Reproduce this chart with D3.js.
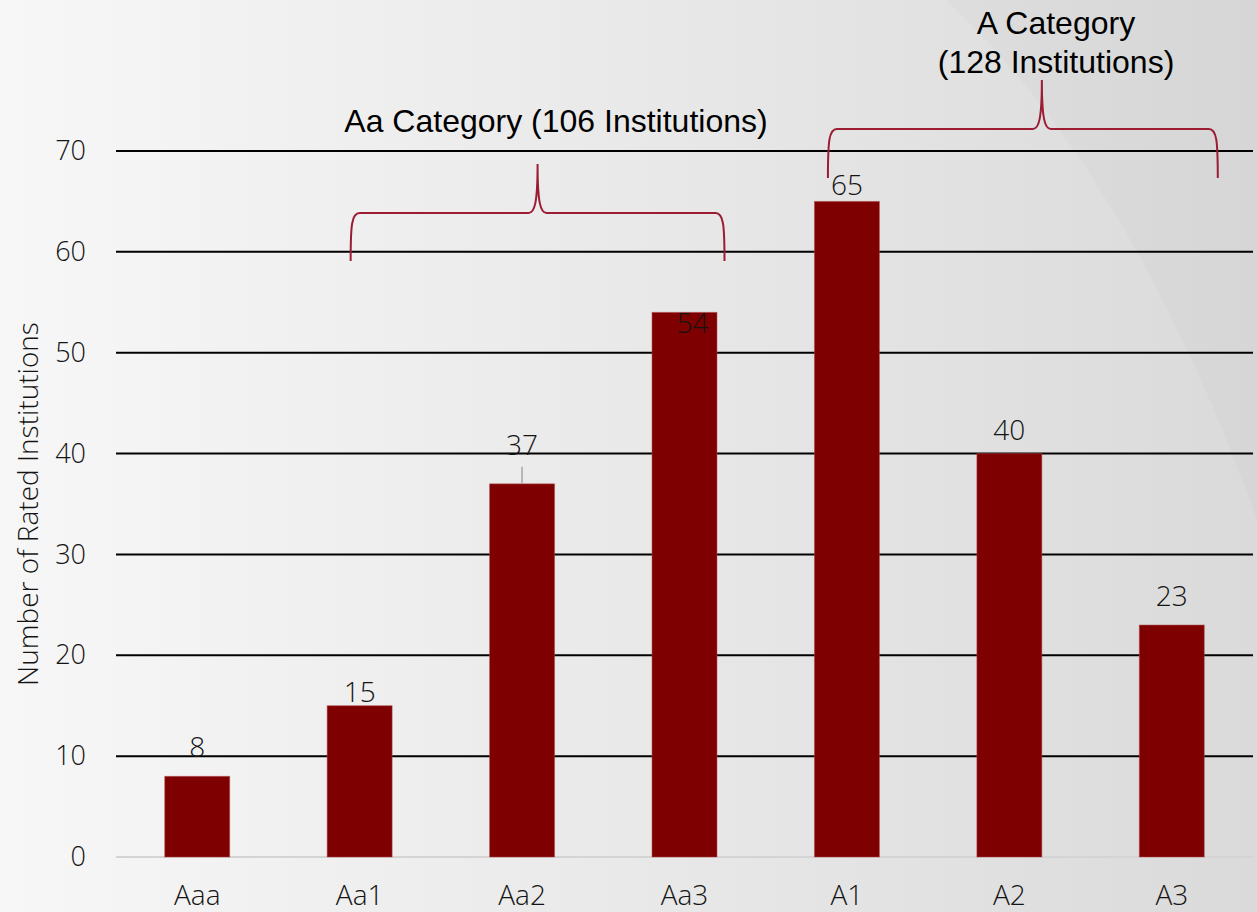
<!DOCTYPE html>
<html>
<head>
<meta charset="utf-8">
<script src="https://cdn.jsdelivr.net/npm/d3@7"></script>
<style>
  html, body { margin: 0; padding: 0; }
  body { width: 1257px; height: 912px; overflow: hidden; }
  svg { display: block; }
</style>
</head>
<body>
<svg id="chart" width="1257" height="912"></svg>
<script>
// Rating categories and counts of rated institutions
const categories = ["Aaa", "Aa1", "Aa2", "Aa3", "A1", "A2", "A3"];
const counts = [8, 15, 37, 54, 65, 40, 23];
const yTicks = [0, 10, 20, 30, 40, 50, 60, 70];
const groups = [
  { lines: ["Aa Category (106 Institutions)"], from: "Aa1", to: "Aa3" },
  { lines: ["A Category", "(128 Institutions)"], from: "A1", to: "A3" }
];

const W = 1257, H = 912;
const margin = { left: 116, right: 4 };
const svg = d3.select("#chart");

// Background: soft horizontal grey gradient with a faint darker corner sweep
const defs = svg.append("defs");
const bg = defs.append("linearGradient").attr("id", "bg").attr("x1", 0).attr("x2", 1).attr("y1", 0).attr("y2", 0);
bg.append("stop").attr("offset", "0%").attr("stop-color", "#f7f7f7");
bg.append("stop").attr("offset", "50%").attr("stop-color", "#e9e9e9");
bg.append("stop").attr("offset", "100%").attr("stop-color", "#dadada");
svg.append("rect").attr("width", W).attr("height", H).attr("fill", "url(#bg)");
svg.append("path")
  .attr("d", "M945,0 Q1130,170 1257,520 L1257,0 Z")
  .attr("fill", "#000").attr("opacity", 0.015);

const x = d3.scaleBand()
  .domain(categories)
  .range([margin.left, W - margin.right])
  .paddingInner(0.6)
  .paddingOuter(0.3);

const y = d3.scaleLinear()
  .domain([0, 70])
  .range([857, 151]);

const tickFont = "'Open Sans', 'Noto Sans', sans-serif";
const textFill = "#141414";

// Horizontal gridlines
svg.append("g")
  .selectAll("line")
  .data(yTicks)
  .join("line")
  .attr("x1", margin.left)
  .attr("x2", W - margin.right)
  .attr("y1", d => y(d))
  .attr("y2", d => y(d))
  .attr("stroke", d => d === 0 ? "#d4d4d4" : "#000")
  .attr("stroke-width", 2);

// Y axis tick labels
const yAxis = svg.append("g")
  .attr("transform", `translate(${margin.left},0)`)
  .call(d3.axisLeft(y).tickValues(yTicks).tickSize(0).tickPadding(30));
yAxis.select(".domain").remove();
yAxis.selectAll("text")
  .attr("font-family", tickFont)
  .attr("font-weight", 300)
  .attr("font-size", 27)
  .attr("fill", textFill);

// X axis category labels
const xAxis = svg.append("g")
  .attr("transform", "translate(0,857)")
  .call(d3.axisBottom(x).tickSize(0).tickPadding(28));
xAxis.select(".domain").remove();
xAxis.selectAll("text")
  .attr("font-family", tickFont)
  .attr("font-weight", 300)
  .attr("font-size", 28)
  .attr("fill", textFill);

// Y axis title
svg.append("text")
  .attr("transform", "translate(38,504) rotate(-90)")
  .attr("text-anchor", "middle")
  .attr("font-family", tickFont)
  .attr("font-weight", 300)
  .attr("font-size", 28)
  .attr("fill", textFill)
  .text("Number of Rated Institutions");

const data = categories.map((c, i) => ({ c, v: counts[i] }));

// Bars
svg.append("g")
  .selectAll("rect")
  .data(data)
  .join("rect")
  .attr("x", d => x(d.c))
  .attr("y", d => y(d.v))
  .attr("width", x.bandwidth())
  .attr("height", d => y(0) - y(d.v))
  .attr("fill", "#7f0000")
  .attr("stroke", "#b24a4a")
  .attr("stroke-opacity", 0.5)
  .attr("stroke-width", 1);

// Value labels: gap between label baseline and bar top (hand-placed per bar)
const labelGap = { Aaa: 19, Aa1: 4, Aa2: 29, Aa3: -21, A1: 6, A2: 14, A3: 19 };
const labelDx = { Aa3: 8 };
const leaderFor = ["Aa2"];
const labels = svg.append("g");
data.forEach(d => {
  const cx = x(d.c) + x.bandwidth() / 2;
  if (leaderFor.includes(d.c)) {
    labels.append("line")
      .attr("x1", cx).attr("x2", cx)
      .attr("y1", y(d.v)).attr("y2", y(d.v) - 17)
      .attr("stroke", "#a6a6a6").attr("stroke-width", 1.5);
  }
  labels.append("text")
    .attr("x", cx + (labelDx[d.c] || 0))
    .attr("y", y(d.v) - labelGap[d.c])
    .attr("text-anchor", "middle")
    .attr("font-family", tickFont)
    .attr("font-weight", 300)
    .attr("font-size", 28)
    .attr("fill", textFill)
    .text(d.v);
});

// Curly braces spanning rating groups
function bracePath(x0, x1, xm, yTop, yBottom, yPeak) {
  const r = 9;
  return `M${x0},${yBottom}` +
    ` C${x0},${yTop + 12} ${x0 + 1},${yTop} ${x0 + r},${yTop}` +
    ` L${xm - r},${yTop}` +
    ` C${xm - 3},${yTop} ${xm},${yTop - 10} ${xm},${yPeak}` +
    ` C${xm},${yTop - 10} ${xm + 3},${yTop} ${xm + r},${yTop}` +
    ` L${x1 - r},${yTop}` +
    ` C${x1 - 1},${yTop} ${x1},${yTop + 12} ${x1},${yBottom}`;
}

const braceLayout = [
  { padL: 9, padR: 40, peakShift: 0, yTop: 213, yBottom: 261, yPeak: 164, textX: 556, textY: [132] },
  { padL: 19, padR: 46, peakShift: 19, yTop: 129, yBottom: 178, yPeak: 80, textX: 1056, textY: [34, 73] }
];
const bracesG = svg.append("g");
groups.forEach((g, i) => {
  const L = braceLayout[i];
  const x0 = x(g.from) + x.bandwidth() / 2 - L.padL;
  const x1 = x(g.to) + x.bandwidth() / 2 + L.padR;
  const xm = (x0 + x1) / 2 + L.peakShift;
  bracesG.append("path")
    .attr("d", bracePath(x0, x1, xm, L.yTop, L.yBottom, L.yPeak))
    .attr("fill", "none")
    .attr("stroke", "#9b1c33")
    .attr("stroke-width", 2);
  g.lines.forEach((t, j) => {
    bracesG.append("text")
      .attr("x", L.textX)
      .attr("y", L.textY[j])
      .attr("text-anchor", "middle")
      .attr("font-family", "'Liberation Sans', Arial, sans-serif")
      .attr("font-size", 32)
      .attr("fill", "#000")
      .text(t);
  });
});
</script>
</body>
</html>
